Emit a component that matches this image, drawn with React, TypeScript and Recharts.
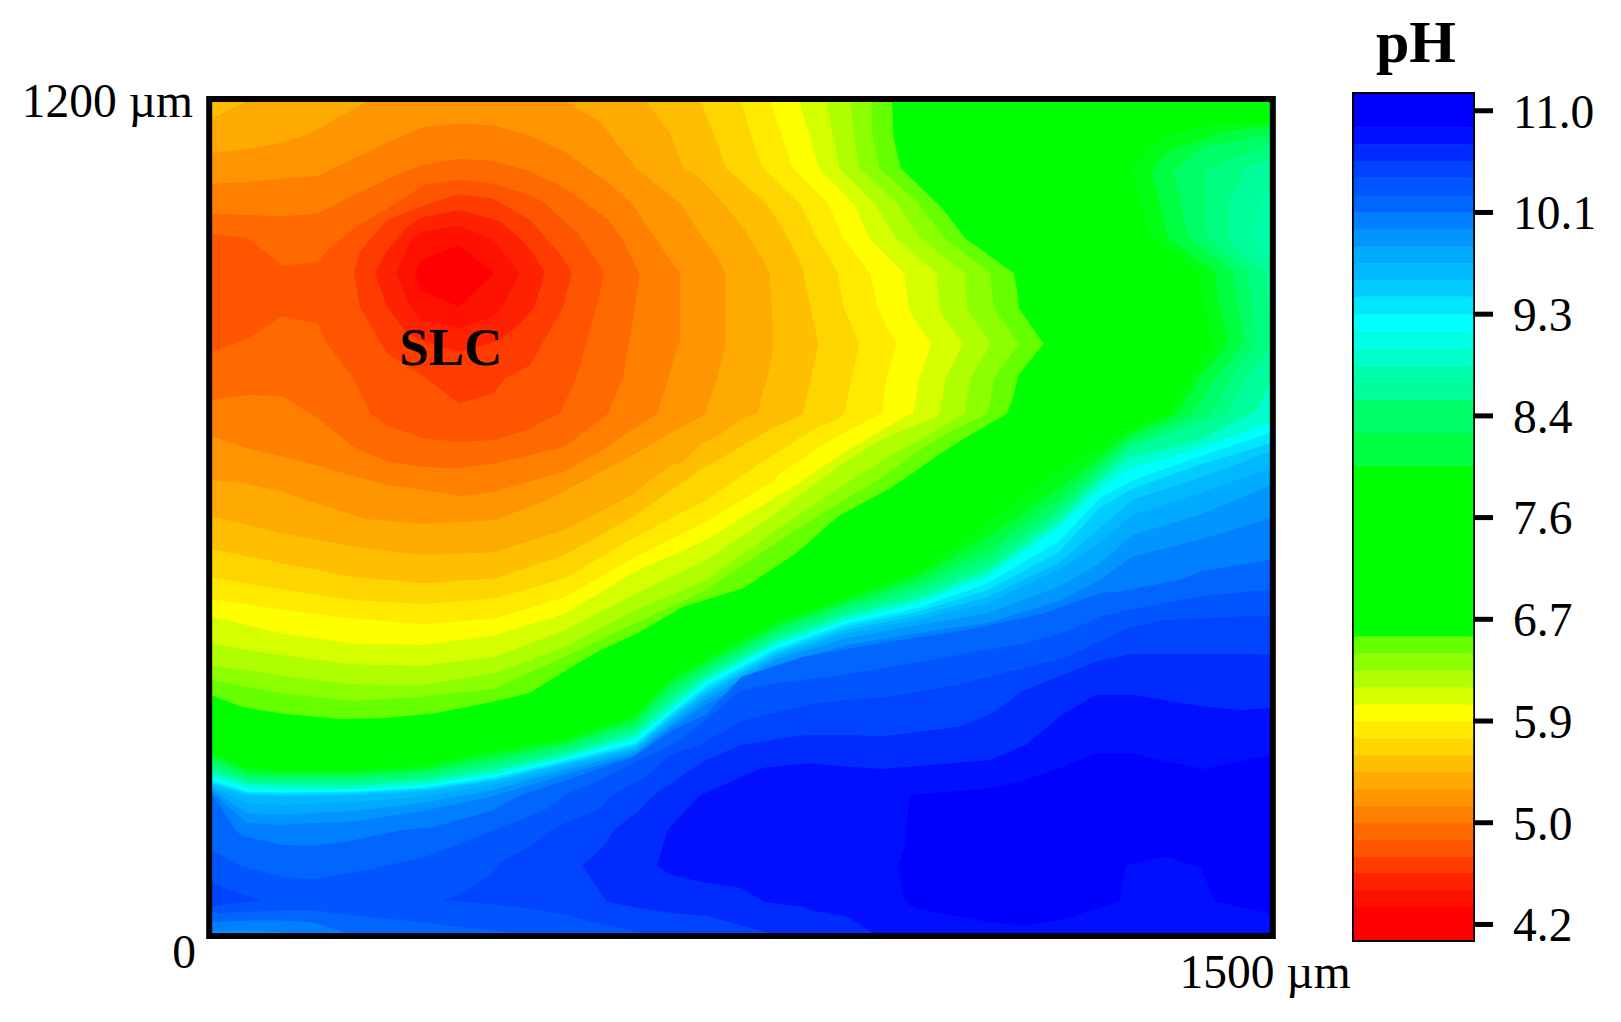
import React from 'react';
import {
  ComposedChart,
  BarChart,
  Area,
  Bar,
  XAxis,
  YAxis,
  ReferenceArea,
  ReferenceDot,
  Label,
} from 'recharts';

// contour regions, one row per x station: [x um, low um, high um]
// (rows with two values start at the bottom edge)
const fieldGreen = [[0, 0, 1200], [1500, 0, 1200]];

const warm66 = [[0,343,1200],[44,326,1200],[99,317,1200],[182,309,1200],[243,310,1200],[314,317,1200],[399,334,1200],[451,347,1200],[503,380,1200],[550,408,1200],[602,432,1200],[668,471,1200],[753,498,1200],[829,549,1200],[888,602,1200],[961,642,1200],[964,644,1200],[966,646,1150],[976,652,1105],[1034,693,1048],[1068,715,1003],[1127,750,960],[1137,778,953],[1142,801,925],[1144,807,902],[1179,851,851]];
const warm8C = [[0,365,1200],[100,346,1200],[200,335,1200],[300,341,1200],[400,353,1200],[500,399,1200],[600,447,1200],[700,495,1200],[800,563,1200],[900,628,1200],[935,648,1200],[936,650,1154],[946,655,1104],[1000,695,1056],[1039,720,1003],[1099,750,957],[1103,765,953],[1109,801,902],[1144,851,851]];
const warmB0 = [[0,386,1200],[100,372,1200],[200,359,1200],[300,358,1200],[400,375,1200],[500,413,1200],[600,466,1200],[700,509,1200],[800,582,1200],[900,650,1200],[905,653,1200],[910,656,1154],[918,662,1104],[972,695,1053],[1003,712,1005],[1067,750,953],[1071,775,902],[1075,801,895],[1105,851,851]];
const warmD5 = [[0,418,1200],[100,401,1200],[200,388,1200],[300,386,1200],[400,399,1200],[500,437,1200],[600,490,1200],[700,538,1200],[800,606,1200],[870,660,1200],[880,667,1154],[890,675,1104],[941,708,1051],[970,722,1003],[1027,745,953],[1032,750,902],[1040,801,885],[1065,851,851]];
const warmFF = [[0,457,1200],[100,432,1200],[200,418,1200],[300,416,1200],[400,430,1200],[500,461,1200],[600,522,1200],[700,567,1200],[800,630,1200],[833,650,1200],[846,660,1154],[861,670,1104],[911,703,1051],[932,715,1003],[981,745,953],[988,748,902],[994,750,890],[1003,801,875],[1020,851,851]];
const warmEA = [[0,482,1200],[100,467,1200],[200,454,1200],[300,446,1200],[400,454,1200],[500,485,1200],[600,543,1200],[700,594,1200],[792,650,1200],[807,664,1154],[823,675,1105],[874,710,1053],[895,722,1003],[933,742,953],[944,748,902],[950,750,890],[956,801,875],[971,851,851]];
const warmD50 = [[0,513,1200],[100,496,1200],[200,481,1200],[300,475,1200],[400,483,1200],[500,512,1200],[600,572,1200],[700,625,1200],[751,660,1200],[763,668,1154],[780,680,1106],[834,715,1053],[858,730,1003],[887,742,953],[896,750,902],[907,801,877],[918,851,851]];
const warmBF = [[0,554,1200],[100,534,1200],[200,514,1200],[300,505,1200],[400,512,1200],[500,546,1200],[600,603,1200],[694,670,1200],[720,685,1130],[729,690,1104],[787,725,1053],[819,740,1000],[838,750,958],[849,801,900],[860,851,851]];
const warmAA = [[0,601,1176],[47,590,1200],[100,577,1200],[200,558,1200],[300,546,1200],[400,550,1200],[500,582,1200],[600,635,1200],[616,650,1200],[650,675,1154],[668,680,1106],[692,705,1090],[720,720,1060],[756,745,1015],[773,750,985],[787,801,962],[790,815,953],[794,835,902],[796,851,851]];
const warm95 = [[0,654,1126],[50,649,1132],[100,637,1142],[139,623,1155],[219,598,1200],[300,591,1200],[400,596,1200],[475,625,1200],[503,640,1200],[550,665,1171],[602,693,1104],[664,730,1053],[692,745,1010],[699,750,1000],[716,801,975],[728,851,953]];
const warm80 = [[0,717,1082],[50,700,1085],[100,688,1089],[150,675,1093],[200,660,1118],[250,647,1142],[300,640,1164],[350,631,1169],[400,637,1166],[450,652,1152],[500,666,1128],[557,700,1087],[593,725,1056],[631,750,1000],[647,801,975],[661,851,957],[664,851,953]];
const warm6A = [[0,770,1039],[50,777,1037],[100,775,1035],[150,743,1039],[200,702,1065],[250,680,1089],[300,673,1110],[350,671,1118],[400,678,1115],[450,690,1100],[500,702,1076],[562,750,1030],[583,803,1000],[600,904,965],[606,953,953]];
const warm55 = [[0,839,1009],[50,858,1004],[100,891,964],[150,880,969],[163,851,985],[200,803,1017],[224,751,1032],[248,733,1046],[300,714,1080],[350,709,1088],[400,712,1082],[451,728,1065],[470,739,1056],[494,751,1033],[517,803,1012],[522,820,1005],[545,904,972],[556,953,953]];
const warm3C = [[201,953,953],[210,902,985],[248,837,1030],[304,801,1052],[350,765,1067],[399,779,1060],[416,801,1050],[451,820,1030],[498,904,975],[510,953,953]];
const warm22 = [[231,953,953],[248,904,985],[276,866,1020],[300,855,1034],[350,839,1044],[408,856,1028],[437,880,1003],[456,902,980],[472,953,953]];
const warm11 = [[261,953,953],[281,904,1000],[297,885,1013],[350,873,1021],[397,889,1003],[411,902,985],[436,953,953]];
const warm00 = [[288,953,953],[297,928,972],[350,904,993],[400,953,953]];

const cool2A = [[0,262],[50,238],[100,235],[200,236],[300,243],[400,265],[500,281],[600,315],[650,370],[700,397],[800,450],[900,486],[1000,521],[1100,592],[1200,667],[1300,728],[1358,750],[1389,803],[1420,851],[1421,1168],[1500,1171]];
const patch2A = [[1304,1101,1101],[1330,1005,1135],[1349,995,1150],[1358,986,1153],[1401,953,1163],[1406,904,1164],[1421,851,1168]];
const cool55 = [[0,256],[50,235],[100,231],[200,231],[300,238],[400,258],[500,276],[600,310],[650,362],[700,391],[800,444],[900,480],[1000,514],[1100,572],[1200,642],[1300,719],[1368,750],[1401,803],[1441,851],[1442,1158],[1500,1166]];
const patch55 = [[1332,1101,1101],[1356,1003,1130],[1422,955,1152],[1429,904,1155],[1441,851,1158]];
const cool75 = [[0,250],[50,229],[100,226],[200,227],[300,233],[400,252],[500,271],[600,304],[650,354],[700,385],[800,439],[900,475],[1000,506],[1100,553],[1200,625],[1300,712],[1389,750],[1424,803],[1462,851],[1463,1147],[1500,1154]];
const patch75 = [[1363,1101,1101],[1384,1005,1118],[1406,990,1135],[1448,953,1143],[1455,904,1145],[1462,851,1147]];
const cool90 = [[0,244],[50,224],[100,222],[200,222],[300,228],[400,246],[500,266],[600,298],[650,346],[700,379],[800,433],[900,469],[1000,498],[1100,541],[1200,612],[1300,705],[1415,750],[1446,803],[1481,851],[1482,1132],[1500,1138]];
const patch90 = [[1408,1101,1101],[1410,1005,1103],[1469,953,1127],[1474,904,1129],[1481,851,1132]];
const coolAA = [[0,238],[50,220],[100,218],[200,218],[300,224],[400,240],[500,262],[600,292],[650,338],[700,374],[800,427],[900,463],[1000,491],[1100,531],[1200,604],[1300,698],[1441,750],[1467,803],[1500,846]];
const patchAA = [[1441,1053,1053],[1443,1000,1060],[1465,975,1104],[1495,953,1115],[1498,904,1116],[1500,851,1118]];
const patchBF = [[1476,1005,1005],[1486,993,1053],[1500,981,1073]];
const coolD0 = [[0,231],[50,216],[100,213],[200,213],[300,219],[400,235],[500,257],[600,287],[650,330],[700,368],[800,422],[900,458],[1000,483],[1100,523],[1200,594],[1259,655],[1300,686],[1400,712],[1481,755],[1500,793]];
const coolFF = [[0,225],[50,211],[100,208],[200,208],[300,214],[400,229],[500,253],[600,281],[650,322],[700,363],[800,416],[900,452],[1000,476],[1100,515],[1200,585],[1259,642],[1300,671],[1400,700],[1500,736]];
const coolE6 = [[0,220],[50,204],[100,203],[200,204],[300,210],[400,225],[500,249],[600,274],[650,317],[700,357],[800,411],[900,447],[1000,469],[1100,505],[1200,565],[1259,628],[1306,654],[1400,688],[1500,722]];
const coolCC = [[0,217],[50,202],[100,201],[200,202],[300,208],[400,222],[500,246],[600,271],[650,313],[700,352],[800,407],[900,443],[1000,464],[1100,495],[1200,550],[1259,614],[1306,642],[1400,676],[1500,707]];
const coolB8 = [[0,214],[50,199],[100,198],[200,199],[300,205],[400,220],[500,244],[600,268],[650,309],[700,347],[800,403],[900,438],[1000,458],[1100,485],[1200,534],[1259,585],[1306,626],[1400,657],[1500,695]];
const coolA5 = [[0,211],[50,187],[100,185],[200,189],[300,197],[400,214],[500,239],[600,265],[650,305],[700,343],[800,399],[900,433],[1000,452],[1100,476],[1200,525],[1259,563],[1306,604],[1400,635],[1500,671]];
const cool95 = [[0,207],[50,173],[100,171],[200,176],[300,188],[400,207],[500,235],[600,261],[650,300],[700,337],[800,395],[900,426],[1000,444],[1100,462],[1200,500],[1259,534],[1306,575],[1400,604],[1500,646]];
const cool80 = [[0,3,203],[50,4,159],[100,1,156],[107,0,157],[200,0,161],[300,0,176],[400,0,198],[500,0,229],[600,0,257],[650,0,296],[700,0,330],[800,0,387],[900,0,416],[1000,0,433],[1100,0,448],[1200,0,479],[1259,0,510],[1306,0,544],[1400,0,568],[1500,0,599]];
const cool66 = [[0,16,200],[35,17,146],[49,18,139],[101,18,127],[144,15,126],[191,0,132],[210,0,136],[267,0,148],[314,0,153],[397,0,177],[437,0,199],[503,0,221],[597,0,254],[654,0,293],[700,0,315],[751,0,370],[839,0,399],[951,0,419],[1073,0,438],[1181,0,462],[1259,0,491],[1287,0,493],[1372,0,510],[1401,0,522],[1500,0,539]];
const cool55b = [[0,29,120],[42,30,96],[101,33,81],[144,33,78],[196,26,87],[219,24,91],[295,16,108],[302,15,110],[347,9,127],[413,2,154],[429,0,160],[477,0,180],[503,0,201],[550,0,221],[597,0,245],[650,0,271],[692,0,301],[751,0,351],[802,0,361],[897,0,373],[1152,0,418],[1210,0,435],[1245,0,450],[1259,0,457],[1306,0,468],[1401,0,486],[1500,0,496]];
const cornerWedge = [[0,39,72],[69,47,47]];
const cool44 = [[327,47,47],[348,46,55],[398,41,86],[408,40,101],[451,35,125],[482,30,149],[500,27,158],[550,13,180],[565,11,197],[606,1,221],[611,0,223],[650,0,257],[692,0,272],[751,0,306],[804,0,320],[848,0,330],[902,0,337],[951,0,340],[1054,0,358],[1210,0,398],[1298,0,440],[1352,0,452],[1459,0,457],[1500,0,458]];
const cool2B = [[525,97,97],[550,60,120],[560,45,132],[570,43,149],[601,37,173],[626,33,199],[657,28,221],[700,25,250],[751,11,272],[790,0,278],[804,0,281],[844,0,286],[902,0,286],[951,0,284],[1059,0,298],[1108,0,318],[1149,0,349],[1254,0,392],[1303,0,403],[1459,0,403],[1500,0,402]];
const cool10 = [[631,97,97],[646,86,149],[651,84,155],[692,74,199],[750,65,225],[763,57,231],[783,45,239],[804,42,241],[839,38,244],[848,33,245],[900,24,240],[937,0,238],[951,0,237],[1103,0,250],[1154,0,272],[1205,0,315],[1254,0,344],[1303,0,344],[1406,0,327],[1459,0,322],[1500,0,325]];
const cool00 = [[972,98,98],[982,45,125],[989,40,199],[1010,33,201],[1103,15,209],[1153,10,221],[1206,19,240],[1254,35,260],[1287,45,260],[1295,97,260],[1303,99,260],[1351,110,248],[1402,93,238],[1406,85,237],[1422,45,240],[1500,28,257]];

const contours: [number[][], string][] = [
  [fieldGreen, '#00FF00'],
  [warm66, '#66FF00'], [warm8C, '#8CFF00'], [warmB0, '#B0FF00'], [warmD5, '#D5FF00'],
  [warmFF, '#FFFF00'], [warmEA, '#FFEA00'], [warmD50, '#FFD500'], [warmBF, '#FFBF00'],
  [warmAA, '#FFAA00'], [warm95, '#FF9500'], [warm80, '#FF8000'], [warm6A, '#FF6A00'],
  [warm55, '#FF5500'], [warm3C, '#FF3C00'], [warm22, '#FF2200'], [warm11, '#FF1100'], [warm00, '#FF0000'],
  [cool2A, '#00FF15'], [patch2A, '#00FF15'], [cool55, '#00FF40'], [patch55, '#00FF40'],
  [cool75, '#00FF66'], [patch75, '#00FF66'], [cool90, '#00FF80'], [patch90, '#00FF80'],
  [coolAA, '#00FF9A'], [patchAA, '#00FF9A'], [patchBF, '#00FFAA'], [coolD0, '#00FFCC'],
  [coolFF, '#00FFFF'], [coolE6, '#00E6FF'], [coolCC, '#00CCFF'], [coolB8, '#00B8FF'],
  [coolA5, '#00AAFF'], [cool95, '#0095FF'], [cool80, '#0080FF'], [cool66, '#0066FF'],
  [cool55b, '#0055FF'], [cornerWedge, '#0044FF'], [cool44, '#0044FF'], [cool2B, '#002BFF'],
  [cool10, '#0010FF'], [cool00, '#0000FF'],
];

// colour bar: upper edge of every band in pH, and its colour
const barEdges = [4.345,4.487,4.629,4.763,4.913,5.047,5.189,5.331,5.473,5.615,5.757,5.899,6.041,6.183,6.325,6.467,6.609,8.033,8.306,8.59,8.735,8.874,9.014,9.161,9.3,9.445,9.584,9.726,9.868,10.011,10.153,10.295,10.44,10.58,10.72,10.86,11.14];
const barColors = ['#FF0000','#FF1100','#FF2200','#FF3C00','#FF5500','#FF6A00','#FF8000','#FF9500','#FFAA00','#FFBF00','#FFD500','#FFEA00','#FFFF00','#D5FF00','#B0FF00','#8CFF00','#66FF00','#00FF00','#00FF40','#00FF66','#00FF99','#00FFAA','#00FFCC','#00FFE6','#00FFFF','#00E6FF','#00CCFF','#00B8FF','#00AAFF','#0095FF','#0080FF','#0066FF','#0055FF','#0044FF','#002BFF','#0010FF','#0000FF'];
const barTicks = [4.2, 5.05, 5.9, 6.75, 7.6, 8.45, 9.3, 10.15, 11.0];
const barTickLabels = ['4.2', '5.0', '5.9', '6.7', '7.6', '8.4', '9.3', '10.1', '11.0'];

const serif = '"Liberation Serif", "Times New Roman", serif';

const toRows = (rows: number[][]) =>
  rows.map((r) => ({ x: r[0], range: r.length === 2 ? [0, r[1]] : [r[1], r[2]] }));

const barRow: Record<string, number> = { name: 0 };
barEdges.forEach((edge, i) => {
  barRow[`b${i}`] = i === 0 ? edge : edge - barEdges[i - 1];
});

const DepthTick = ({ x, y, payload }: any) => (
  <text
    x={payload.value === 0 ? x + 3 : x}
    y={payload.value === 0 ? y + 18 : y - 2}
    dy="0.355em"
    textAnchor="end"
    fontFamily={serif}
    fontSize={47.5}
    fill="#000"
  >
    {payload.value === 0 ? '0' : `${payload.value} µm`}
  </text>
);

export default function App() {
  return (
    <div style={{ position: 'absolute', left: 0, top: 0, width: 1621, height: 1022, background: '#fff' }}>
      <div style={{ position: 'absolute', left: 0, top: 0 }}>
        <ComposedChart width={1621} height={1022} margin={{ top: 102, right: 351, bottom: 0, left: 0 }}>
          <XAxis
            type="number"
            dataKey="x"
            domain={[0, 1500]}
            ticks={[1500]}
            interval={0}
            height={89}
            allowDataOverflow
            axisLine={false}
            tickLine={false}
            tickSize={0}
            tickMargin={21}
            tickFormatter={(v) => `${v} µm`}
            tick={{ fontFamily: serif, fontSize: 47.5, fill: '#000', dx: -5 }}
          />
          <YAxis
            type="number"
            domain={[0, 1200]}
            ticks={[0, 1200]}
            interval={0}
            width={212}
            allowDataOverflow
            axisLine={false}
            tickLine={false}
            tickSize={0}
            tickMargin={19}
            tick={<DepthTick />}
          />
          {contours.map(([rows, color], i) => (
            <Area
              key={i}
              data={toRows(rows)}
              dataKey="range"
              type="linear"
              stroke="none"
              fill={color}
              fillOpacity={1}
              dot={false}
              activeDot={false}
              isAnimationActive={false}
            />
          ))}
          <ReferenceArea
            x1={-4}
            x2={1504}
            y1={-4.3}
            y2={1204.3}
            ifOverflow="visible"
            fill="none"
            stroke="#000"
            strokeWidth={6}
          />
          <ReferenceDot x={339} y={848} r={0} fill="none" stroke="none" ifOverflow="visible">
            <Label
              value="SLC"
              position="center"
              style={{ fontFamily: serif, fontSize: 53, fontWeight: 700, fill: '#000' }}
            />
          </ReferenceDot>
        </ComposedChart>
      </div>
      <div
        style={{
          position: 'absolute',
          left: 1376,
          top: 8,
          fontFamily: serif,
          fontSize: 60,
          fontWeight: 700,
          lineHeight: '69px',
          color: '#000',
        }}
      >
        pH
      </div>
      <div style={{ position: 'absolute', left: 1340, top: 0 }}>
        <BarChart
          width={281}
          height={1022}
          data={[barRow]}
          barCategoryGap={0}
          margin={{ top: 94, right: 0, bottom: 82, left: 14 }}
        >
          <XAxis dataKey="name" hide />
          <YAxis
            type="number"
            orientation="right"
            domain={[4.07, 11.14]}
            ticks={barTicks}
            interval={0}
            width={148}
            allowDataOverflow
            axisLine={false}
            tickSize={20}
            tickMargin={20}
            tickLine={{ stroke: '#000', strokeWidth: 5 }}
            tickFormatter={(v) => barTickLabels[barTicks.indexOf(v)]}
            tick={{ fontFamily: serif, fontSize: 47.5, fill: '#000' }}
          />
          {barColors.map((color, i) => (
            <Bar key={i} dataKey={`b${i}`} stackId="ph" fill={color} stroke={color} strokeWidth={0.5} isAnimationActive={false} />
          ))}
          <ReferenceArea y1={4.07} y2={11.14} ifOverflow="visible" fill="none" stroke="#000" strokeWidth={4} />
        </BarChart>
      </div>
    </div>
  );
}
